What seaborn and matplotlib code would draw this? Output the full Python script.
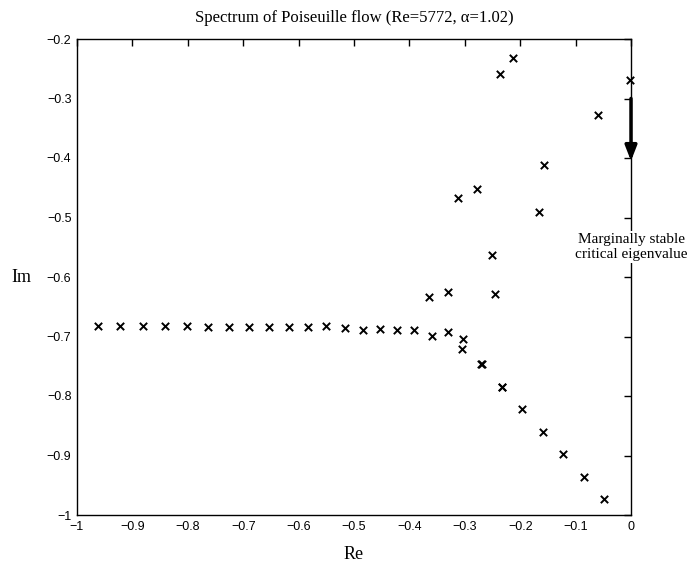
import matplotlib
matplotlib.use("Agg")
import matplotlib.pyplot as plt
import seaborn as sns
import pandas as pd

# ---- data ----
re_vals = [
    # left horizontal branch
    -0.9626, -0.9218, -0.8809, -0.8412, -0.8014, -0.764, -0.7256, -0.6895,
    -0.6534, -0.6173, -0.5836, -0.551, -0.5162, -0.4843, -0.4531, -0.4218,
    -0.3917, -0.3587, -0.3298, -0.304, -0.3056,
    # upper (A) branch
    -0.3117, -0.2774, -0.237, -0.2137, -0.0018, -0.0596, -0.1565, -0.1666,
    -0.2503, -0.245, -0.3298, -0.364,
    # lower diagonal branch
    -0.2708, -0.2698, -0.2334, -0.2326, -0.196, -0.1588, -0.1222, -0.0854,
    -0.0482,
]
im_vals = [
    -0.6824, -0.6824, -0.6824, -0.6824, -0.6824, -0.6835, -0.6835, -0.6835,
    -0.6835, -0.6846, -0.6846, -0.6824, -0.6857, -0.6896, -0.6869, -0.6891,
    -0.6891, -0.699, -0.693, -0.705, -0.7205,
    -0.468, -0.452, -0.259, -0.2314, -0.269, -0.328, -0.412, -0.490,
    -0.5636, -0.629, -0.6257, -0.634,
    -0.746, -0.7465, -0.7843, -0.7848, -0.8224, -0.8605, -0.898, -0.9356,
    -0.9736,
]
x_ticks = [-1, -0.9, -0.8, -0.7, -0.6, -0.5, -0.4, -0.3, -0.2, -0.1, 0]
x_tick_labels = ["\u22121", "\u22120.9", "\u22120.8", "\u22120.7", "\u22120.6",
                 "\u22120.5", "\u22120.4", "\u22120.3", "\u22120.2", "\u22120.1", "0"]
y_ticks = [-1, -0.9, -0.8, -0.7, -0.6, -0.5, -0.4, -0.3, -0.2]
y_tick_labels = ["\u22121", "\u22120.9", "\u22120.8", "\u22120.7", "\u22120.6",
                 "\u22120.5", "\u22120.4", "\u22120.3", "\u22120.2"]
title_text = "Spectrum of Poiseuille flow (Re=5772, \u03b1=1.02)"
note_text = "Marginally stable\ncritical eigenvalue"
arrow_start = (0.0, -0.30)
arrow_end = (0.0, -0.405)

df = pd.DataFrame({"Re": re_vals, "Im": im_vals})

sns.set_style("white")
plt.rcParams["font.family"] = ["Liberation Sans", "DejaVu Sans"]
plt.rcParams["text.color"] = "black"
plt.rcParams["axes.labelcolor"] = "black"

fig = plt.figure(figsize=(6.95, 5.66), dpi=100)
ax = fig.add_axes([77 / 695, 1 - 515 / 566, 554 / 695, 476 / 566])

sns.scatterplot(data=df, x="Re", y="Im", marker="x", color="black",
                s=28, linewidth=1.4, ax=ax, legend=False)
for coll in ax.collections:
    coll.set_clip_on(False)
    coll.set_zorder(4)

ax.set_xlim(-1, 0)
ax.set_ylim(-1, -0.2)
ax.set_xticks(x_ticks)
ax.set_xticklabels(x_tick_labels)
ax.set_yticks(y_ticks)
ax.set_yticklabels(y_tick_labels)
ax.tick_params(direction="in", length=5, width=1, top=True, right=True,
               labelsize=9, pad=4, colors="black")
for sp in ax.spines.values():
    sp.set_visible(True)
    sp.set_color("black")
    sp.set_linewidth(1.0)

serif = ["Liberation Serif", "DejaVu Serif"]
ax.set_title(title_text, family=serif, fontsize=12, pad=12, color="black")
ax.set_xlabel("Re", family=serif, fontsize=13, labelpad=10)
ax.set_ylabel("Im", family=serif, fontsize=13, rotation=0, labelpad=0)
ax.yaxis.set_label_coords(-0.101, 0.5)
ax.yaxis.label.set_verticalalignment("center")

ax.annotate("", xy=arrow_end, xytext=arrow_start,
            arrowprops=dict(arrowstyle="-|>,head_length=0.9,head_width=0.35",
                            lw=2.5, color="black", shrinkA=0, shrinkB=0),
            annotation_clip=False, zorder=5)
ax.text(0.0, -0.55, note_text, family=serif, fontsize=11, ha="center",
        va="center", linespacing=1.15, zorder=6, clip_on=False,
        bbox=dict(facecolor="white", edgecolor="none", pad=1.5))

fig.savefig("out.png", dpi=100)
